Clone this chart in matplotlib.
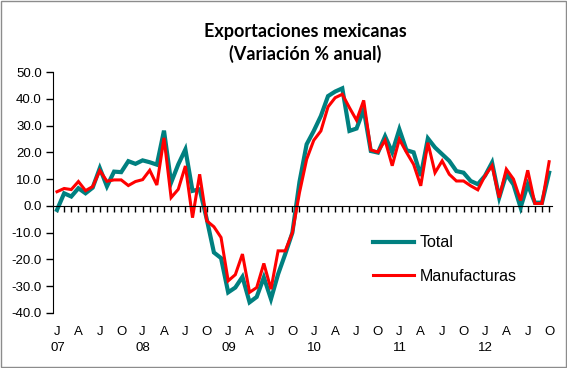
import numpy as np
import matplotlib
matplotlib.use("Agg")
import matplotlib.pyplot as plt
import matplotlib.transforms as mtransforms
from matplotlib.patches import Rectangle

# monthly data, Jan 2007 - Oct 2012 (annual % change)
total = [-1.5, 4.7, 3.5, 6.6, 4.7, 6.8, 14.1, 7.3, 12.8, 12.6, 16.7, 15.7,
         17.0, 16.3, 15.4, 28.1, 8.7, 15.5, 21.1, 5.6, 6.2, -5.0, -17.4, -19.5,
         -32.3, -30.5, -26.5, -36.0, -34.0, -26.7, -34.8, -25.5, -18.0, -10.0, 9.0, 23.0,
         28.0, 33.6, 41.0, 42.7, 43.9, 28.0, 28.9, 36.0, 20.5, 19.9, 26.0, 20.0,
         28.6, 20.8, 20.0, 11.2, 25.2, 21.8, 19.3, 16.8, 13.0, 12.4, 9.3, 8.1,
         11.2, 16.2, 3.1, 11.8, 8.0, -0.6, 8.0, 1.2, 1.2, 12.4]
manuf = [5.3, 6.5, 6.1, 9.1, 5.7, 7.2, 13.2, 9.2, 9.7, 9.7, 7.6, 9.1,
         9.8, 13.3, 7.8, 25.4, 3.1, 6.2, 14.9, -4.4, 11.8, -5.6, -7.8, -11.8,
         -28.0, -25.7, -18.0, -32.3, -30.5, -21.5, -31.1, -16.8, -16.8, -10.0, 5.0, 17.4,
         24.5, 28.0, 37.0, 40.4, 41.7, 36.7, 32.0, 39.4, 20.9, 20.1, 24.5, 15.0,
         24.9, 20.0, 15.5, 7.5, 23.6, 12.4, 16.8, 11.8, 9.3, 9.3, 7.5, 6.0,
         11.2, 15.0, 3.1, 13.7, 10.0, 2.0, 13.3, 0.9, 0.9, 16.5]
month_letters = ["J", "A", "J", "O"]
years = ["07", "08", "09", "10", "11", "12"]

x = np.arange(len(total))

plt.rcParams["font.family"] = "sans-serif"
plt.rcParams["font.sans-serif"] = ["Liberation Sans"]

fig = plt.figure(figsize=(5.67, 3.68), dpi=100)
ax = fig.add_axes([0.0935, 0.1495, 0.88, 0.6548])

ax.plot(x, total, color="#008080", lw=3.0, label="Total", solid_joinstyle="miter")
ax.plot(x, manuf, color="#ff0000", lw=2.2, label="Manufacturas", solid_joinstyle="miter")

ax.set_ylim(-40, 50)
ax.set_xlim(-0.56, 69.4)
ax.set_yticks(np.arange(-40, 51, 10))
ax.set_yticklabels([f"{v:.1f}" for v in np.arange(-40, 51, 10)], fontsize=9.5)
ax.tick_params(axis="y", direction="out", length=5, width=1, pad=3)

ax.spines["top"].set_visible(False)
ax.spines["right"].set_visible(False)
ax.spines["bottom"].set_position(("data", 0))
ax.set_xticks(x)
ax.tick_params(axis="x", direction="out", length=4, width=1, labelbottom=False)

# quarter letters and year labels under the plot
trans = mtransforms.blended_transform_factory(ax.transData, ax.transAxes)
for i in range(0, len(x), 3):
    ax.text(i, -0.079, month_letters[(i // 3) % 4], transform=trans,
            ha="center", va="center", fontsize=9.5)
for k, yr in enumerate(years):
    ax.text(k * 12 + 0.1, -0.145, yr, transform=trans,
            ha="center", va="center", fontsize=9.5)

ax.legend(loc="upper left", bbox_to_anchor=(0.641, 0.322), frameon=False,
          fontsize=11.5, handlelength=2.6, handletextpad=0.35, labelspacing=1.15,
          borderaxespad=0, borderpad=0)

fig.text(0.538, 0.883, "Exportaciones mexicanas\n(Variación % anual)",
         ha="center", va="center", fontsize=13, fontweight="bold",
         family=["Lato", "DejaVu Sans"], linespacing=1.33)

fig.patches.append(Rectangle((0.001, 0.003), 0.997, 0.994, transform=fig.transFigure,
                             fill=False, edgecolor="#8c8c8c", lw=1.0))

fig.savefig("out.png", dpi=100)
